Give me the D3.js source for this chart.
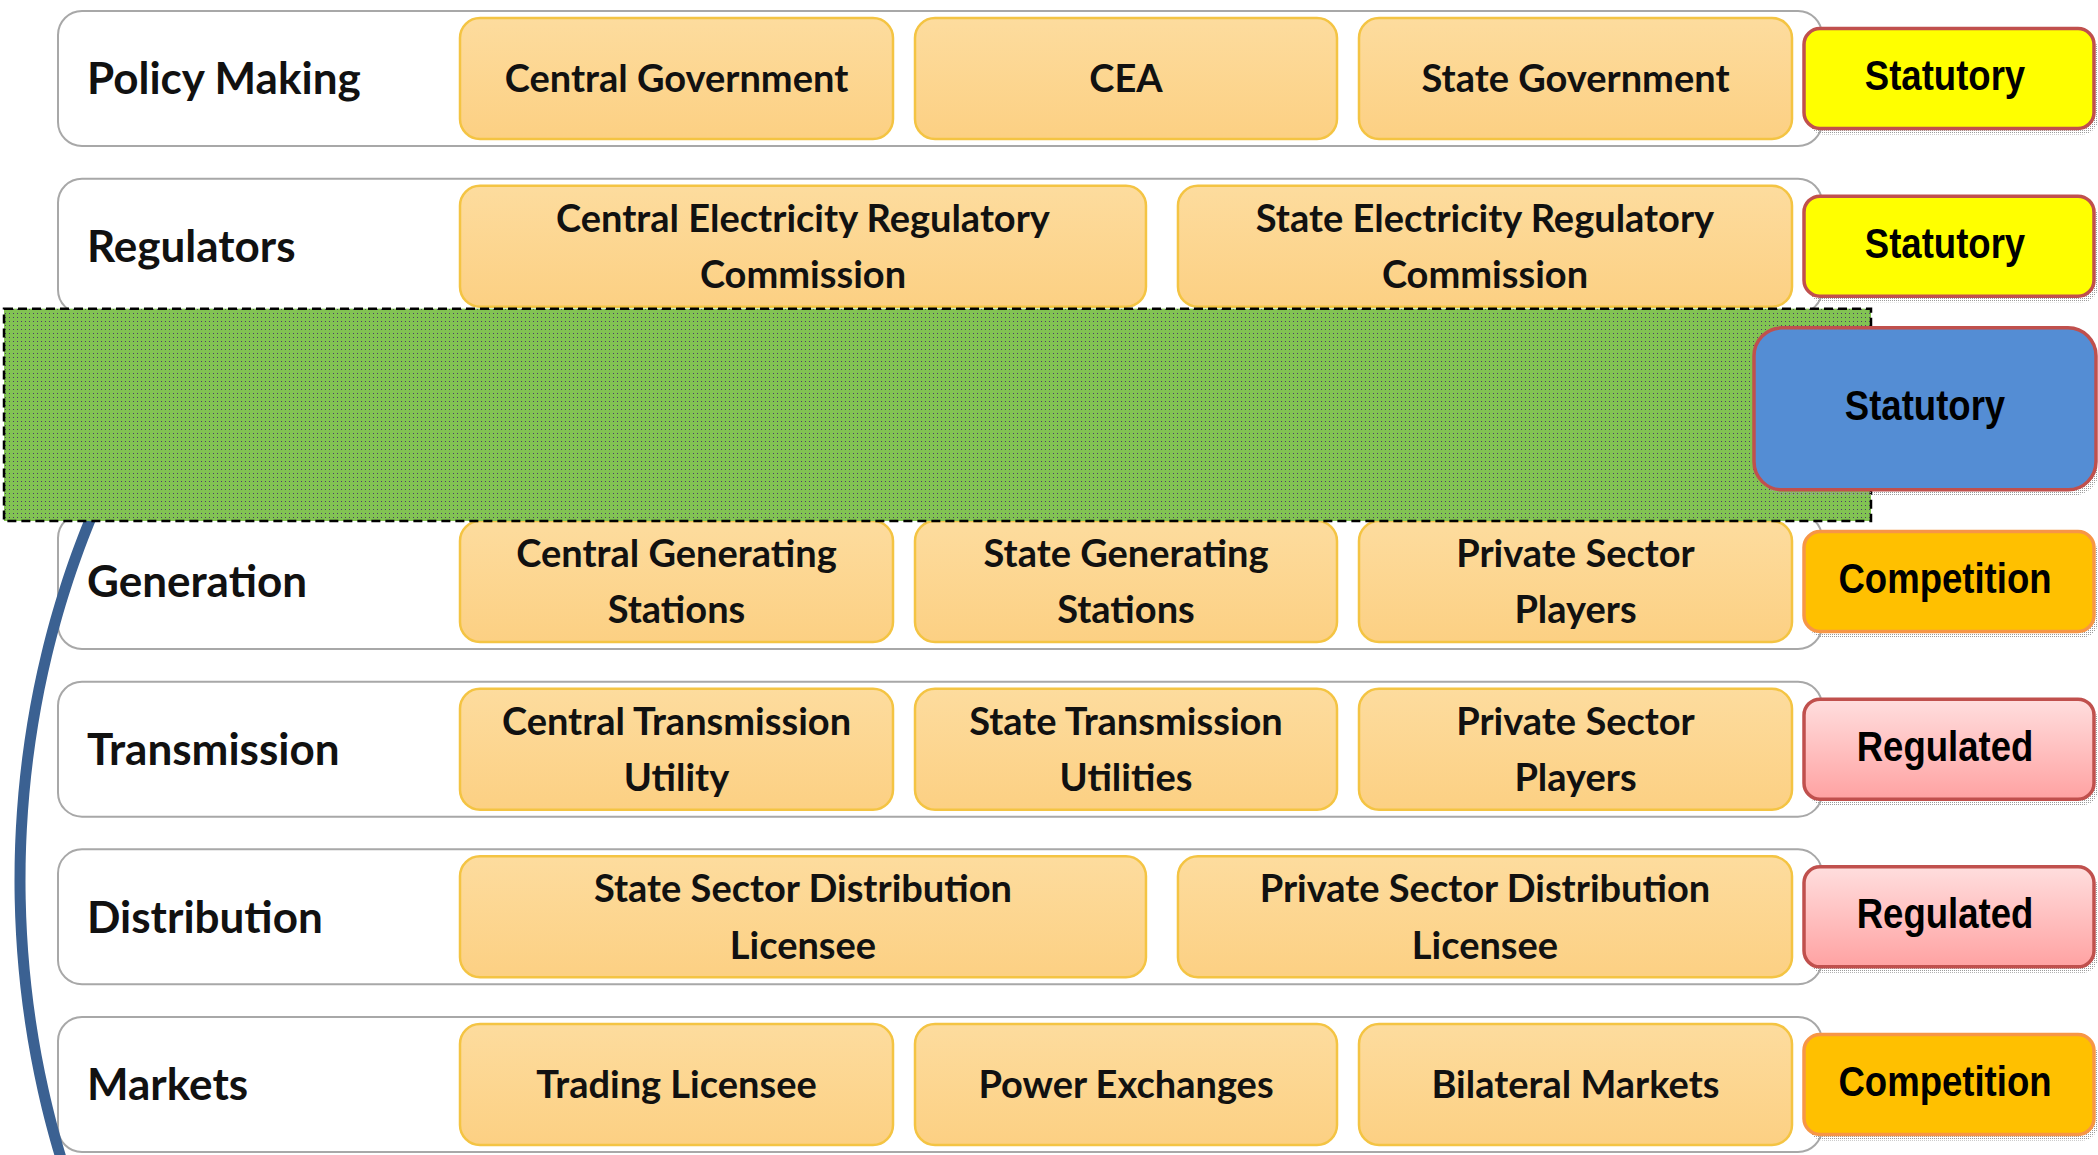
<!DOCTYPE html>
<html>
<head>
<meta charset="utf-8">
<script src="https://cdn.jsdelivr.net/npm/d3@7"></script>
<style>
  body { margin: 0; background: #fff; }
  svg { display: block; }
</style>
</head>
<body>
<div id="chart"></div>
<script>
const width = 2098,
      height = 1155;

// rows of the sector structure (null = row hidden under the green block)
const rowLabels = ["Policy Making", "Regulators", null, "Generation", "Transmission", "Distribution", "Markets"];
const rowItems = [
  ["Central Government", "CEA", "State Government"],
  ["Central Electricity Regulatory|Commission", "State Electricity Regulatory|Commission"],
  [],
  ["Central Generating|Stations", "State Generating|Stations", "Private Sector|Players"],
  ["Central Transmission|Utility", "State Transmission|Utilities", "Private Sector|Players"],
  ["State Sector Distribution|Licensee", "Private Sector Distribution|Licensee"],
  ["Trading Licensee", "Power Exchanges", "Bilateral Markets"]
];
const rowRoles = ["Statutory", "Statutory", "Statutory", "Competition", "Regulated", "Regulated", "Competition"];
const roleNames = ["Statutory", "Competition", "Regulated"];

var svg = d3.select('#chart').append('svg')
  .attr('width', width)
  .attr('height', height);

var defs = svg.append('defs');

var gOrange = defs.append('linearGradient').attr('id', 'orangeGrad')
  .attr('x1', 0).attr('y1', 0).attr('x2', 0).attr('y2', 1);
gOrange.append('stop').attr('offset', '0%').attr('stop-color', '#fddc9e');
gOrange.append('stop').attr('offset', '100%').attr('stop-color', '#fcd083');

var gPink = defs.append('linearGradient').attr('id', 'pinkGrad')
  .attr('x1', 0).attr('y1', 0).attr('x2', 0).attr('y2', 1);
gPink.append('stop').attr('offset', '0%').attr('stop-color', '#ffdede');
gPink.append('stop').attr('offset', '100%').attr('stop-color', '#ffa2a2');

var dots = defs.append('pattern').attr('id', 'greenDots')
  .attr('width', 4).attr('height', 4).attr('patternUnits', 'userSpaceOnUse');
dots.append('rect').attr('width', 4).attr('height', 4).attr('fill', '#82c353');
dots.append('rect').attr('x', 1).attr('y', 1).attr('width', 1).attr('height', 1).attr('fill', '#4d3d66');

var shade = defs.append('pattern').attr('id', 'shadowDots')
  .attr('width', 2).attr('height', 2).attr('patternUnits', 'userSpaceOnUse');
shade.append('rect').attr('width', 1).attr('height', 1).attr('fill', '#9a9a9a');

// layout scales
const y = d3.scaleBand()
  .domain(d3.range(rowLabels.length))
  .range([11, 1152])
  .paddingInner(0.195);

const xBox = d3.scaleLinear().domain([0, 1]).range([460, 1792]);
const splits = { 2: [0, 0.527, 1], 3: [0, 1 / 3, 2 / 3, 1] };
const boxGap = { 2: 32, 3: 22 };

const roleFill = d3.scaleOrdinal().domain(roleNames)
  .range(['#ffff00', '#ffc000', 'url(#pinkGrad)']);
const roleStroke = d3.scaleOrdinal().domain(roleNames)
  .range(['#c0504d', '#f79646', '#c0504d']);

const rows = rowLabels.map((label, i) => ({ label: label, items: rowItems[i], role: rowRoles[i], i: i }));
const visible = rows.filter(d => d.label !== null);

// outer row frames
var rowG = svg.append('g').selectAll('g.row').data(visible)
  .enter().append('g')
  .attr('class', 'row')
  .attr('transform', d => `translate(0,${y(d.i)})`);

rowG.append('rect')
  .attr('x', 58).attr('y', 0)
  .attr('width', 1764).attr('height', y.bandwidth())
  .attr('rx', 24)
  .style('fill', '#fff')
  .style('stroke', '#a8a8a8')
  .style('stroke-width', 2);

rowG.append('text')
  .attr('x', 87)
  .attr('y', y.bandwidth() / 2)
  .attr('dy', '0.36em')
  .style('font-family', 'Lato, "Open Sans", sans-serif')
  .style('font-weight', 700)
  .style('font-size', '44px')
  .style('fill', '#111')
  .text(d => d.label);

// orange item boxes
const inset = 7;
var boxes = rowG.selectAll('g.item')
  .data(d => d.items.map((t, j) => ({ text: t, j: j, n: d.items.length })))
  .enter().append('g').attr('class', 'item');

boxes.each(function(d) {
  const s = splits[d.n], gap = boxGap[d.n];
  const x0 = xBox(s[d.j]) + (d.j > 0 ? gap / 2 : 0);
  const x1 = xBox(s[d.j + 1]) - (d.j < d.n - 1 ? gap / 2 : 0);
  const g = d3.select(this);
  g.append('rect')
    .attr('x', x0).attr('y', inset)
    .attr('width', x1 - x0).attr('height', y.bandwidth() - 2 * inset)
    .attr('rx', 20)
    .style('fill', 'url(#orangeGrad)')
    .style('stroke', '#f4c443')
    .style('stroke-width', 2.5);
  const lines = d.text.split('|');
  const t = g.append('text')
    .attr('x', (x0 + x1) / 2)
    .attr('y', y.bandwidth() / 2)
    .attr('text-anchor', 'middle')
    .style('font-family', 'Lato, "Open Sans", sans-serif')
    .style('font-weight', 700)
    .style('font-size', '38px')
    .style('fill', '#111');
  lines.forEach((l, k) => {
    t.append('tspan')
      .attr('x', (x0 + x1) / 2)
      .attr('dy', k === 0 ? `${0.36 - (lines.length - 1) * 0.74}em` : '1.48em')
      .text(l);
  });
});

// role tags on the right
function drawTag(sel, x, yy, w, h, r, fill, stroke) {
  sel.append('rect')
    .attr('x', x + 4).attr('y', yy + 6)
    .attr('width', w).attr('height', h)
    .attr('rx', r)
    .style('fill', 'url(#shadowDots)');
  sel.append('rect')
    .attr('x', x).attr('y', yy)
    .attr('width', w).attr('height', h)
    .attr('rx', r)
    .style('fill', fill)
    .style('stroke', stroke)
    .style('stroke-width', 3.5);
}

function tagText(sel, cx, cy, label) {
  sel.append('text')
    .attr('transform', `translate(${cx},${cy}) scale(0.85,1)`)
    .attr('text-anchor', 'middle')
    .attr('dy', '0.34em')
    .style('font-family', '"Liberation Sans", Arial, sans-serif')
    .style('font-weight', 700)
    .style('font-size', '43px')
    .style('fill', '#000')
    .text(label);
}

const tagX = 1804, tagW = 290, tagH = 100;
var tagG = svg.append('g');
visible.forEach(d => {
  const cy = y(d.i) + y.bandwidth() / 2;
  const g = tagG.append('g');
  drawTag(g, tagX, cy - tagH / 2, tagW, tagH, 16, roleFill(d.role), roleStroke(d.role));
  tagText(g, tagX + tagW / 2 - 4, cy - 3, d.role);
});

// blue bracket on the left
const ell = { cx: 820, cy: 880, rx: 800, ry: 880 };
const arcLine = d3.line()
  .x(t => ell.cx + ell.rx * Math.cos(t))
  .y(t => ell.cy + ell.ry * Math.sin(t))
  .curve(d3.curveNatural);
svg.append('path')
  .datum(d3.range(2.80, 3.60, 0.02))
  .attr('d', arcLine)
  .style('fill', 'none')
  .style('stroke', '#3b6192')
  .style('stroke-width', 11);

// green block hiding the masked row
const masked = rows.find(d => d.label === null);
const my = y(masked.i);
const gTop = y(masked.i - 1) + y.bandwidth() - 5;
svg.append('rect')
  .attr('x', 4).attr('y', gTop)
  .attr('width', 1867)
  .attr('height', y(masked.i + 1) + 7 - gTop)
  .style('fill', 'url(#greenDots)')
  .style('stroke', '#000')
  .style('stroke-width', 2.5)
  .style('stroke-dasharray', '9,5');

// enlarged statutory tag for masked row
var blue = svg.append('g');
const bcy = my + y.bandwidth() / 2 - 5;
drawTag(blue, 1754, bcy - 81, 342, 162, 28, '#548dd4', '#c0504d');
tagText(blue, 1754 + 342 / 2, bcy - 3, masked.role);
</script>
</body>
</html>
